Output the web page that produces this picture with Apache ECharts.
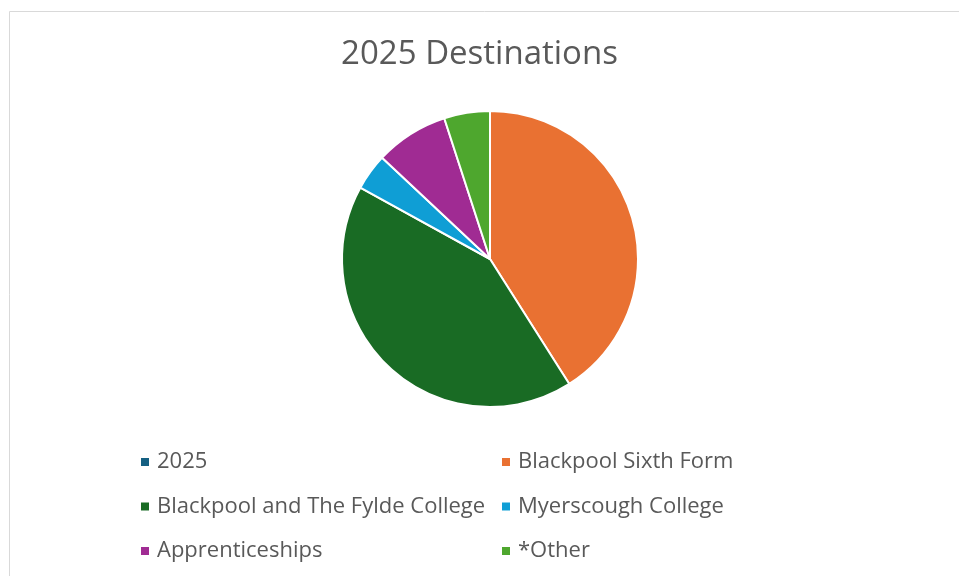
<!DOCTYPE html>
<html><head><meta charset="utf-8">
<script src="https://cdn.jsdelivr.net/npm/echarts@6/dist/echarts.min.js"></script>
<style>html,body{margin:0;padding:0;background:#fff}#c{width:959px;height:576px}</style>
</head><body><div id="c"></div>
<script>
const title = '2025 Destinations';
const categories = ['2025','Blackpool Sixth Form','Blackpool and The Fylde College','Myerscough College','Apprenticeships','*Other'];
const values = [0, 41, 42, 4, 8, 5];
const colors = ['#156082','#E97132','#196B24','#0F9ED5','#A02B93','#4EA72E'];
const legendCol1 = ['2025','Blackpool and The Fylde College','Apprenticeships'];
const legendCol2 = ['Blackpool Sixth Form','Myerscough College','*Other'];

const chart = echarts.init(document.getElementById('c'), null, {renderer:'canvas'});
const font = '"Open Sans", "Liberation Sans", Arial, sans-serif';
const legendBase = {
  orient:'vertical', top: 451, itemWidth: 10, itemHeight: 10, itemGap: 22.5, padding:0,
  icon:'rect', selectedMode:false,
  textStyle:{fontFamily:font, fontSize:22, color:'#595959', lineHeight:22, padding:[0,0,0,2]}
};
chart.setOption({
  animation:false,
  color: colors,
  graphic:[{type:'rect', shape:{x:9.5,y:11.5,width:1000,height:600}, style:{fill:null, stroke:'#d9d9d9', lineWidth:1}, silent:true}],
  title:{text:title, left:'center', top:38, padding:0, textStyle:{fontFamily:font, fontSize:33, fontWeight:'normal', color:'#595959'}},
  legend:[
    Object.assign({}, legendBase, {left:139, data:legendCol1}),
    Object.assign({}, legendBase, {left:500, data:legendCol2})
  ],
  series:[{
    type:'pie', center:[490,259], radius:148, startAngle:90, clockwise:true,
    label:{show:false}, labelLine:{show:false}, silent:true,
    itemStyle:{borderColor:'#fff', borderWidth:2},
    data: categories.map((n,i)=>({name:n, value:values[i], itemStyle:{color:colors[i]}}))
  }]
});
</script></body></html>
